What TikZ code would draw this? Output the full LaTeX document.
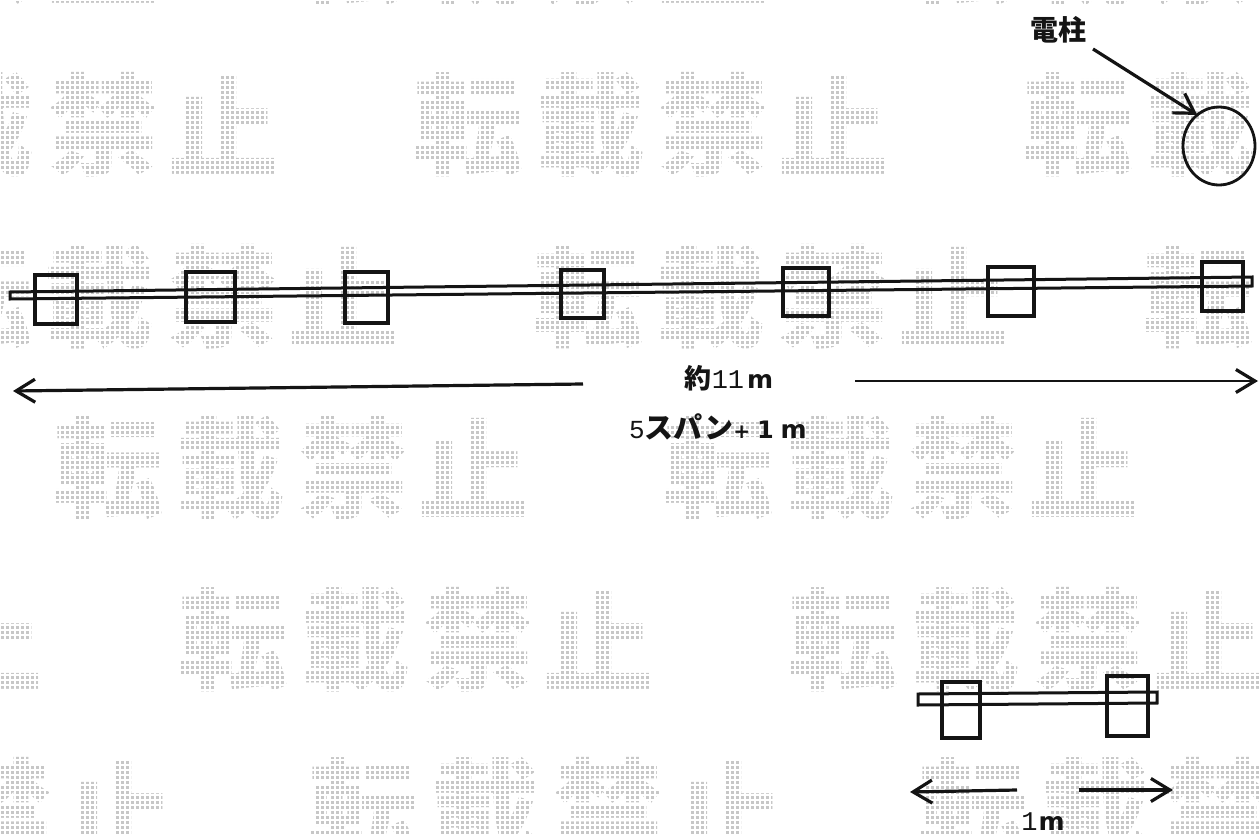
\documentclass[tikz,border=0pt]{standalone}
\usepackage{fontspec}
\usetikzlibrary{arrows.meta,shapes.geometric}
\newfontfamily\cjkf{Noto Sans CJK JP}
\newfontfamily\monof{Liberation Mono}
\newfontfamily\boldf{DejaVu Sans}
\definecolor{wmgray}{gray}{0.78}
\definecolor{ink}{gray}{0.08}
\newcommand\wmrow[3]{%
  \foreach \k in {-1,0,1,2}{%
    \foreach \c/\dx/\i in {転/0/1,載/122/2,禁/245/3,止/365/4}{%
      \pgfmathsetmacro\xx{#2+610*\k+\dx+53}
      \node[wmark] (wm#1k\k c\i) at (\xx,#3) {\c};
    }%
  }%
}
\tikzset{
  wmark/.style={inner sep=0pt,outer sep=0pt,text=wmgray,font=\cjkf\bfseries\fontsize{110}{110}\selectfont},
  mainbox/.style={draw=ink,line width=3.3pt,inner sep=0pt,outer sep=0pt},
  barline/.style={draw=ink,line width=3pt,line join=miter},
  dimarrow/.style={draw=ink,line width=3.2pt,-{Straight Barb[length=19pt,width=23pt,line width=3.2pt]}},
  label/.style={inner sep=0pt,outer sep=0pt,text=ink}
}
\begin{document}
\begin{tikzpicture}[x=1pt,y=-1pt]
\useasboundingbox (0,0) rectangle (1259,835);
\clip (0,0) rectangle (1259,835);
\fill[white] (0,0) rectangle (1259,835);
% watermark, set as dot matrix
\wmrow{a}{295}{-46}
\wmrow{b}{415}{125}
\wmrow{c}{-75}{297}
\wmrow{d}{55}{468}
\wmrow{e}{180}{640}
\wmrow{f}{310}{810}
\draw[white,line width=2.2pt,step=5pt] (-2.5pt,-840pt) grid (1262pt,5pt);
% pole
\node[label,font=\cjkf\bfseries\fontsize{28}{28}\selectfont] (pole) at (1058,30) {電柱};
\node[draw=ink,line width=2.8pt,ellipse,minimum width=72pt,minimum height=78pt,inner sep=0pt,outer sep=0pt] (circ) at (1219,146) {};
\coordinate (polestart) at (1093,49);
\draw[dimarrow] (polestart) -- (circ.125);
% main bar
\coordinate (m1) at (10,292);
\coordinate (m2) at (1252,277);
\coordinate (m3) at (1252,286);
\coordinate (m4) at (10,299);
\draw[barline] (m1) -- (m2) -- (m3) -- (m4) -- cycle;
\node[mainbox,minimum width=42pt,minimum height=49pt] (b1) at (56,299.5) {};
\node[mainbox,minimum width=49pt,minimum height=50pt] (b2) at (210.5,297) {};
\node[mainbox,minimum width=43pt,minimum height=51pt] (b3) at (366.5,297.5) {};
\node[mainbox,minimum width=43pt,minimum height=48pt] (b4) at (582.5,294) {};
\node[mainbox,minimum width=46pt,minimum height=48pt] (b5) at (806,292) {};
\node[mainbox,minimum width=46pt,minimum height=49pt] (b6) at (1011,291.5) {};
\node[mainbox,minimum width=41pt,minimum height=49pt] (b7) at (1222.5,286.5) {};
% main dimension
\node[label,font=\fontsize{27}{27}\selectfont] (dimtext) at (729,378) {{\cjkf\bfseries 約}{\monof\fontsize{27}{27}\selectfont 11}\hspace{3pt}{\boldf\bfseries\fontsize{25}{25}\selectfont m}};
\node[label,font=\fontsize{26}{26}\selectfont] (spantext) at (718,427) {{\monof\fontsize{26}{26}\selectfont 5}{\cjkf\bfseries\fontsize{29}{29}\selectfont スパン}{\boldf\bfseries\fontsize{20}{20}\selectfont +}\hspace{7pt}{\boldf\bfseries\fontsize{24}{24}\selectfont 1}\hspace{7pt}{\boldf\bfseries\fontsize{25}{25}\selectfont m}};
\coordinate (ml) at (583,384);
\coordinate (mlt) at (13,391);
\coordinate (mr) at (855,381);
\coordinate (mrt) at (1258,381);
\draw[dimarrow] (ml) -- (mlt);
\draw[dimarrow,line width=2.4pt] (mr) -- (mrt);
% small sample
\coordinate (s1) at (918,694);
\coordinate (s2) at (1157,692);
\coordinate (s3) at (1157,703);
\coordinate (s4) at (918,705);
\draw[barline] (s1) -- (s2) -- (s3) -- (s4) -- cycle;
\node[mainbox,minimum width=38pt,minimum height=56pt] (sb1) at (961,710) {};
\node[mainbox,minimum width=41pt,minimum height=60pt] (sb2) at (1127.5,706) {};
\node[label] (onem) at (1043,822) {{\monof\fontsize{27}{27}\selectfont 1}\hspace{1pt}{\boldf\bfseries\fontsize{25}{25}\selectfont m}};
\coordinate (sl) at (1017,790);
\coordinate (slt) at (910,792);
\coordinate (sr) at (1079,790);
\coordinate (srt) at (1173,790);
\draw[dimarrow] (sl) -- (slt);
\draw[dimarrow] (sr) -- (srt);
\end{tikzpicture}
\end{document}
